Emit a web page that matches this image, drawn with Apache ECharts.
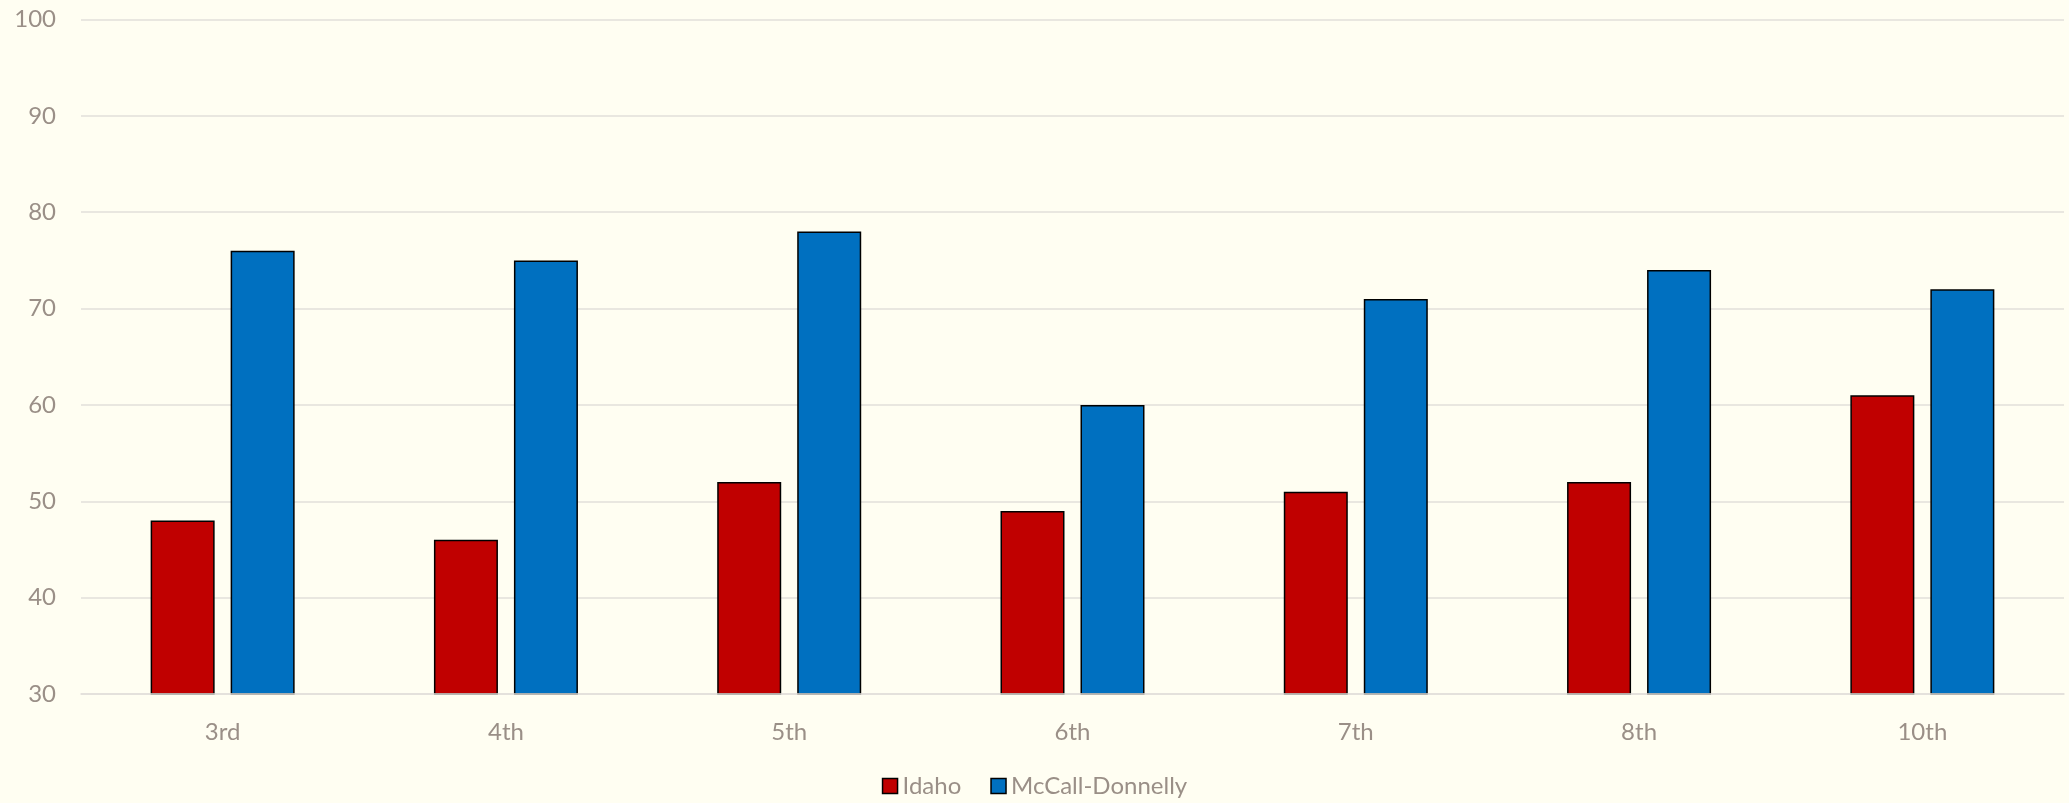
<!DOCTYPE html>
<html>
<head>
<meta charset="utf-8">
<script src="https://cdn.jsdelivr.net/npm/echarts@6/dist/echarts.min.js"></script>
<style>
html,body{margin:0;padding:0;background:#FFFEF2;}
#chart{width:2069px;height:803px;}
</style>
</head>
<body>
<div id="chart"></div>
<script>
const categories = ['3rd','4th','5th','6th','7th','8th','10th'];
const idaho = [48,46,52,49,51,52,61];
const mccall = [76,75,78,60,71,74,72];
const seriesNames = ['Idaho','McCall-Donnelly'];
const seriesColors = ['#C00000','#0070C0'];

const chart = echarts.init(document.getElementById('chart'));
const textColor = '#9A8F87';
const font = 'Lato, "Open Sans", sans-serif';
chart.setOption({
  backgroundColor: '#FFFEF2',
  animation: false,
  grid: {left: 81, right: 5, top: 19.5, bottom: 109, containLabel: false},
  legend: {
    top: 769,
    left: 'center',
    itemWidth: 15,
    itemHeight: 15,
    itemGap: 29,
    icon: 'rect',
    textStyle: {color: textColor, fontSize: 24, fontFamily: font},
    data: seriesNames.map(n => ({name: n, itemStyle: {borderColor: '#000', borderWidth: 1.5}}))
  },
  xAxis: {
    type: 'category',
    data: categories,
    z: 5,
    axisLine: {show: true, lineStyle: {color: '#E2DFDA', width: 1.5}},
    axisTick: {show: false},
    axisLabel: {color: textColor, fontSize: 24, fontFamily: font, margin: 26}
  },
  yAxis: {
    type: 'value',
    min: 30,
    max: 100,
    interval: 10,
    axisLine: {show: false},
    axisTick: {show: false},
    splitLine: {lineStyle: {color: '#E2DFDA', width: 1.5}},
    axisLabel: {color: textColor, fontSize: 24, fontFamily: font, margin: 25}
  },
  series: [
    {name: seriesNames[0], type: 'bar', data: idaho, barWidth: 64, barGap: '25%',
     itemStyle: {color: seriesColors[0], borderColor: '#000', borderWidth: 1.5}},
    {name: seriesNames[1], type: 'bar', data: mccall, barWidth: 64, barGap: '25%',
     itemStyle: {color: seriesColors[1], borderColor: '#000', borderWidth: 1.5}}
  ]
});
</script>
</body>
</html>
